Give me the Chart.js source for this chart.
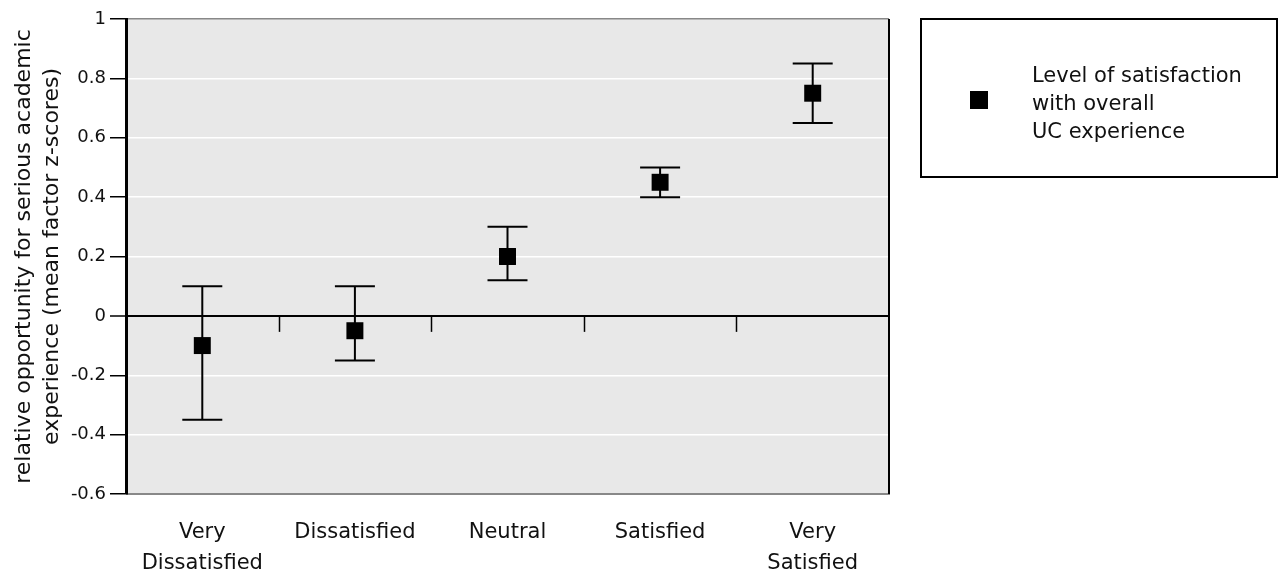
<!DOCTYPE html>
<html>
<head>
<meta charset="utf-8">
<script src="https://cdn.jsdelivr.net/npm/chart.js@4/dist/chart.umd.min.js"></script>
<style>
  html, body { margin: 0; padding: 0; background: #fff; }
  #wrap { position: relative; width: 1279px; height: 576px; }
  #legend { position: absolute; left: 920px; top: 18px; width: 358px; height: 160px;
    border: 2px solid #000; box-sizing: border-box; font-family: "DejaVu Sans", sans-serif; font-size: 21px; color: #111; }
  #legend .mk { position: absolute; left: 48px; top: 71px; width: 18px; height: 18px; background: #000; }
  #legend .tx { position: absolute; left: 110px; top: 41px; line-height: 28px; white-space: nowrap; }
</style>
</head>
<body>
<div id="wrap">
  <canvas id="c" width="1279" height="576"></canvas>
  <div id="legend"><div class="mk"></div><div class="tx">Level of satisfaction<br>with overall<br>UC experience</div></div>
</div>
<script>
const categories = ["Very Dissatisfied", "Dissatisfied", "Neutral", "Satisfied", "Very Satisfied"];
const meanValues = [-0.10, -0.05, 0.20, 0.45, 0.75];
const upperValues = [0.10, 0.10, 0.30, 0.50, 0.85];
const lowerValues = [-0.35, -0.15, 0.12, 0.40, 0.65];
const yTicks = [1, 0.8, 0.6, 0.4, 0.2, 0, -0.2, -0.4, -0.6];
const seriesName = "Level of satisfaction with overall UC experience";

const FONT = "'DejaVu Sans', sans-serif";

const plotDecor = {
  id: 'plotDecor',
  beforeDraw(chart) {
    const { ctx, chartArea: a } = chart;
    ctx.save();
    ctx.fillStyle = '#e8e8e8';
    ctx.fillRect(a.left, a.top, a.right - a.left, a.bottom - a.top);
    ctx.restore();
  },
  afterDatasetsDraw(chart) {
    const { ctx, chartArea: a, scales } = chart;
    const x = scales.x, y = scales.y;
    ctx.save();
    ctx.strokeStyle = '#000'; ctx.lineWidth = 2;
    ctx.beginPath(); ctx.moveTo(a.right, a.top); ctx.lineTo(a.right, a.bottom); ctx.stroke();
    const y0 = y.getPixelForValue(0);
    ctx.lineWidth = 1.5;
    for (let i = 0; i < categories.length - 1; i++) {
      const px = Math.round(x.getPixelForValue(i + 0.5)) + 0.5;
      ctx.beginPath(); ctx.moveTo(px, y0); ctx.lineTo(px, y0 + 16); ctx.stroke();
    }
    ctx.restore();
  },
  beforeDatasetsDraw(chart) {
    const { ctx, scales } = chart;
    const x = scales.x, y = scales.y;
    ctx.save();
    ctx.strokeStyle = '#000'; ctx.lineWidth = 2;
    meanValues.forEach((m, i) => {
      const px = x.getPixelForValue(i);
      const pu = y.getPixelForValue(upperValues[i]);
      const pl = y.getPixelForValue(lowerValues[i]);
      ctx.beginPath();
      ctx.moveTo(px, pu); ctx.lineTo(px, pl);
      ctx.moveTo(px - 20, pu); ctx.lineTo(px + 20, pu);
      ctx.moveTo(px - 20, pl); ctx.lineTo(px + 20, pl);
      ctx.stroke();
    });
    ctx.restore();
  }
};

new Chart(document.getElementById('c'), {
  type: 'scatter',
  data: {
    datasets: [{
      label: seriesName,
      data: meanValues.map((v, i) => ({ x: i, y: v })),
      pointStyle: 'rect',
      radius: 12,
      backgroundColor: '#000',
      borderColor: '#000',
      borderWidth: 0,
      showLine: false
    }]
  },
  options: {
    responsive: false,
    animation: false,
    devicePixelRatio: 1,
    layout: { padding: { left: 0, top: 19, right: 390, bottom: 0 } },
    plugins: { legend: { display: false }, tooltip: { enabled: false } },
    scales: {
      x: {
        type: 'linear', min: -0.5, max: 4.5,
        afterBuildTicks(s) { s.ticks = categories.map((c, i) => ({ value: i })); },
        ticks: {
          autoSkip: false, maxRotation: 0, padding: 23,
          color: '#111', font: { family: FONT, size: 21, lineHeight: 1.48 },
          callback(v) {
            const c = categories[v];
            if (c === 'Very Dissatisfied') return ['Very', 'Dissatisfied'];
            if (c === 'Very Satisfied') return ['Very', 'Satisfied'];
            return c;
          }
        },
        grid: { display: false, drawTicks: false },
        border: { display: true, color: '#888', width: 1 },
        afterFit(s) { s.height = 82; }
      },
      y: {
        min: -0.6, max: 1,
        afterBuildTicks(s) { s.ticks = yTicks.map(v => ({ value: v })); },
        ticks: {
          color: '#111', font: { family: FONT, size: 18 }, padding: 4,
          callback(v) { return String(Math.round(v * 10) / 10); }
        },
        grid: {
          color(ctx) {
            const v = ctx.tick && ctx.tick.value;
            if (v === 0) return '#000';
            if (v === 1 || v === -0.6) return '#888';
            return '#fff';
          },
          lineWidth(ctx) { return ctx.tick && ctx.tick.value === 0 ? 2 : 1.5; },
          tickColor: '#000', tickLength: 16, tickWidth: 1.5
        },
        border: { display: true, color: '#000', width: 3 },
        title: {
          display: true,
          text: ['relative opportunity for serious academic', 'experience (mean factor z-scores)'],
          color: '#111', font: { family: FONT, size: 22, lineHeight: 1.25 }, padding: { top: 11, bottom: 0 }
        },
        afterFit(s) { s.width = 126; }
      }
    }
  },
  plugins: [plotDecor]
});
</script>
</body>
</html>
